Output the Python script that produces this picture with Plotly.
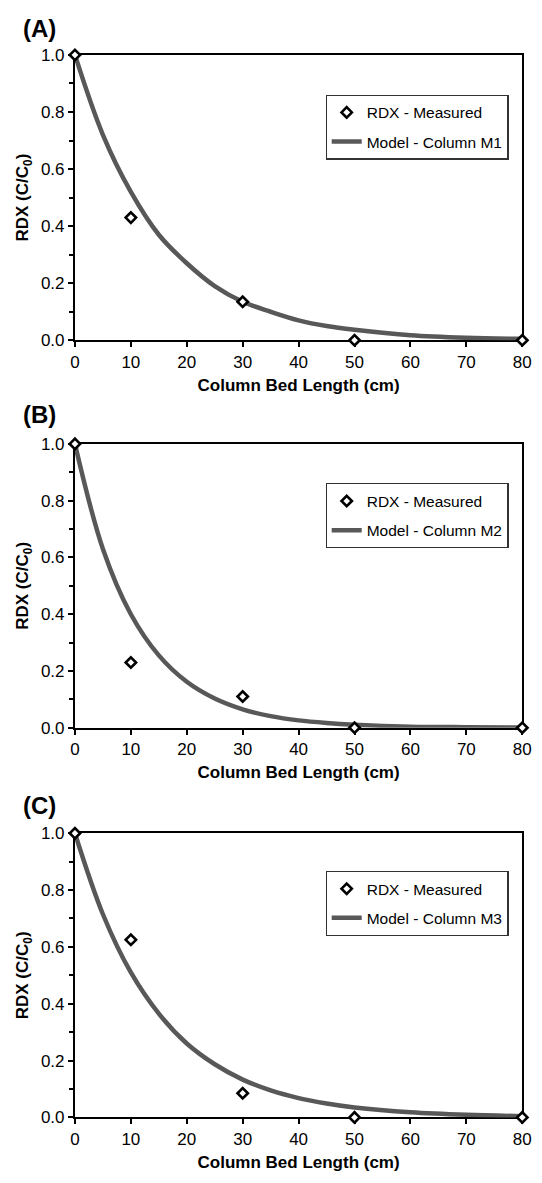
import plotly.graph_objects as go

# ---- data ----
panel_labels = ["(A)", "(B)", "(C)"]
model_names = ["Model - Column M1", "Model - Column M2", "Model - Column M3"]
measured_name = "RDX - Measured"

meas_x = [0, 10, 30, 50, 80]
meas_A = [1.0, 0.43, 0.135, 0.0, 0.0]
meas_B = [1.0, 0.23, 0.11, 0.0, 0.0]
meas_C = [1.0, 0.625, 0.085, 0.0, 0.0]

model_x = [0, 5, 10, 15, 20, 25, 30, 35, 40, 45, 50, 60, 70, 80]
model_A = [1.0, 0.72, 0.52, 0.37, 0.27, 0.19, 0.135, 0.10, 0.07, 0.05, 0.037, 0.018, 0.009, 0.005]
model_B = [1.0, 0.63, 0.40, 0.255, 0.162, 0.103, 0.065, 0.041, 0.026, 0.017, 0.011, 0.004, 0.002, 0.001]
model_C = [1.0, 0.715, 0.51, 0.365, 0.26, 0.187, 0.133, 0.095, 0.068, 0.049, 0.035, 0.018, 0.009, 0.0045]

x_ticks = [0, 10, 20, 30, 40, 50, 60, 70, 80]
y_ticks = [0.0, 0.2, 0.4, 0.6, 0.8, 1.0]
y_tick_text = ["0.0", "0.2", "0.4", "0.6", "0.8", "1.0"]

# ---- layout geometry ----
W, H = 542, 1183
FONT = "Liberation Sans, Arial, Helvetica, sans-serif"
x_dom = [71.8 / W, 531 / W]
panels_px = [(46.7, 336.7), (442.0, 730.5), (837.7, 1126.5)]
legend_top_px = [87, 482, 876]
label_y_px = [20, 412, 810]

meas_all = [meas_A, meas_B, meas_C]
model_all = [model_A, model_B, model_C]

fig = go.Figure()
layout = dict(
    width=W, height=H, paper_bgcolor="white", plot_bgcolor="white",
    margin=dict(l=0, r=0, t=0, b=0), autosize=False,
    font=dict(family=FONT, color="black", size=17),
    annotations=[],
)

for i in range(3):
    sfx = "" if i == 0 else str(i + 1)
    xa, ya = "x" + sfx, "y" + sfx
    leg = "legend" + sfx
    top, bot = panels_px[i]
    fig.add_trace(go.Scatter(
        x=model_x, y=model_all[i], mode="lines", name=model_names[i],
        line=dict(color="#585858", width=4.5, shape="spline", smoothing=1.0),
        xaxis=xa, yaxis=ya, legend=leg, legendrank=2, legendgroup="m%d" % i,
        cliponaxis=False, hoverinfo="skip",
    ))
    fig.add_trace(go.Scatter(
        x=meas_x, y=meas_all[i], mode="markers", name=measured_name,
        marker=dict(symbol="diamond", size=8, color="white",
                    line=dict(color="black", width=2.6)),
        xaxis=xa, yaxis=ya, legend=leg, legendrank=1, legendgroup="d%d" % i,
        cliponaxis=False,
    ))
    axis_common = dict(
        showline=True, linecolor="black", linewidth=2, mirror=True,
        ticks="outside", ticklen=5, tickwidth=1.5, tickcolor="black",
        showgrid=False, zeroline=False, layer="below traces",
        tickfont=dict(family=FONT, size=17, color="black"),
    )
    layout["xaxis" + sfx] = dict(
        axis_common, domain=x_dom, range=[0, 80], tickvals=x_ticks,
        anchor=ya,
        title=dict(text="<b>Column Bed Length (cm)</b>", standoff=8,
                   font=dict(family=FONT, size=17, color="black")),
    )
    layout["yaxis" + sfx] = dict(
        axis_common, domain=[1 - bot / H, 1 - top / H], range=[0, 1.0],
        tickvals=y_ticks, ticktext=y_tick_text, anchor=xa,
        minor=dict(tickvals=[0.1, 0.3, 0.5, 0.7, 0.9], ticks="outside",
                   ticklen=4, tickwidth=1.5, tickcolor="black"),
        title=dict(text="<b>RDX (C/C<sub>0</sub>)</b>", standoff=8,
                   font=dict(family=FONT, size=17, color="black")),
    )
    layout[leg] = dict(
        x=329 / W, y=1 - legend_top_px[i] / H, xanchor="left", yanchor="top",
        bgcolor="white", bordercolor="#333333", borderwidth=1.2,
        font=dict(family=FONT, size=15.5, color="black"),
        tracegroupgap=6, traceorder="grouped",
    )
    layout["annotations"].append(dict(
        text="<b>%s</b>" % panel_labels[i], xref="paper", yref="paper",
        x=16 / W, y=1 - label_y_px[i] / H, xanchor="left", yanchor="middle",
        showarrow=False, font=dict(family=FONT, size=24, color="black"),
    ))

fig.update_layout(**layout)
fig.write_html(
    "out.html",
    config={"displayModeBar": False},
    post_script="document.body.style.margin='0';document.body.style.padding='0';",
)
